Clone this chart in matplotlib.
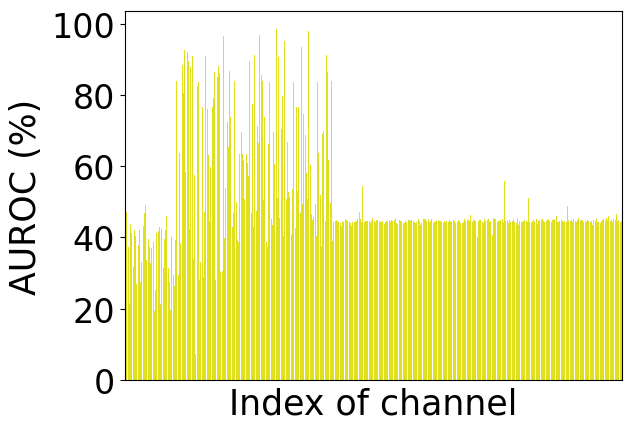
import matplotlib
matplotlib.use("Agg")
import matplotlib.pyplot as plt
import numpy as np

# AUROC per channel (left to right)
auroc_low = [34.5, 47.2, 37.3, 21.4, 43.7, 41.2, 31.7, 42.0, 40.3, 26.9,
             38.0, 42.0, 27.5, 33.0, 43.1, 46.8, 49.0, 33.6, 39.5, 37.3,
             32.8, 37.0, 38.6, 19.3, 25.2, 41.2, 41.7, 42.8, 21.3, 42.5,
             31.4, 39.5, 42.0, 45.9, 31.4, 27.5, 19.6, 40.0, 29.4, 26.3,
             39.2]

auroc_mid = [84.0, 29.4, 63.6, 38.4, 88.5, 80.4, 92.7, 58.3, 91.9, 89.6,
             42.5, 87.7, 90.8, 33.9, 57.4, 7.3, 82.4, 83.5, 28.0, 33.0,
             76.7, 28.8, 47.1, 90.8, 75.9, 63.0, 44.5, 59.7, 76.7, 79.0,
             86.3, 28.0, 84.9, 88.0, 86.0, 30.3, 30.5, 96.4, 39.8, 53.8,
             72.3, 65.3, 86.6, 73.7, 42.8, 46.8, 83.8, 49.9, 39.2, 38.6,
             63.3, 69.5, 63.3, 61.6, 50.7, 63.3,
             60.8, 57.1, 89.4, 46.8, 77.3, 42.9, 91.3, 47.3, 71.4, 66.4,
             96.9, 85.7, 84.0, 50.4, 73.7, 38.7, 37.3, 66.1, 83.5, 45.1,
             43.4, 69.5, 60.5, 98.6, 51.0, 90.5, 45.4, 70.3, 79.8, 40.3,
             95.0, 50.7, 66.7, 52.7, 51.3, 40.6, 53.5, 83.5, 42.6, 76.5,
             52.9, 76.5, 46.8, 93.3, 49.3, 74.5, 68.6, 58.0, 50.7, 98.0,
             60.2, 46.5, 44.8, 45.7, 49.3, 40.3, 83.5, 63.6, 51.8, 37.5,
             68.9, 70.0, 44.5, 91.3, 86.3, 61.6, 49.6, 84.0, 38.9]

auroc_flat = [44.3, 44.5, 44.8, 44.5, 44.3, 44.0, 43.1, 44.5, 44.3, 45.1,
              44.8, 44.5, 44.3, 44.0, 43.1, 44.3, 44.3, 44.3, 44.5, 45.1,
              47.1, 45.1, 44.3, 54.3, 44.3, 44.5, 44.5, 44.5, 44.5, 44.0,
              44.5, 45.4, 44.5, 44.3, 44.8, 44.8, 44.5, 44.3, 44.3, 44.5,
              43.7, 44.3, 44.5, 44.5, 44.8, 44.3, 44.8, 44.5, 44.8, 45.4,
              44.0, 43.7, 44.8, 44.5, 44.5, 44.0, 44.0, 44.5, 44.3, 44.8,
              44.8, 44.5, 44.8, 44.5, 44.3, 44.0, 44.3, 45.1, 44.5, 43.4,
              44.0, 45.1, 45.1, 45.1, 44.5, 45.1, 44.3, 44.5, 45.1, 44.0,
              44.3, 44.5, 44.5, 44.8, 44.5, 44.5, 44.3, 44.0, 44.5, 44.3,
              44.5, 44.3, 44.8, 44.5, 44.3, 44.8, 44.5, 44.0, 44.3, 44.8,
              44.5, 44.0, 44.0, 44.3, 45.1, 44.5, 44.8, 44.8, 44.5, 46.2,
              44.3, 44.8, 44.8, 44.5, 40.1, 44.5, 44.8, 44.8, 44.3, 44.0,
              45.1, 44.5, 44.8, 45.1, 44.3, 44.5, 40.6, 45.4, 45.1, 45.1,
              44.3, 44.5, 44.5, 44.8, 45.1, 44.3, 55.7, 44.5, 44.8, 44.0,
              44.8, 44.3, 44.5, 45.1, 44.3, 44.0, 45.5, 43.4, 44.5, 44.3,
              44.3, 44.5, 44.8, 44.5, 44.3, 51.0, 44.3, 44.0, 44.5, 44.8,
              44.3, 45.1, 43.7, 44.5, 44.8, 44.8, 45.1, 44.5, 44.3, 44.5,
              44.8, 45.1, 44.5, 44.3, 44.8, 45.1, 44.8, 45.9, 44.3, 44.3,
              44.5, 44.8, 44.5, 44.3, 44.5, 44.3, 48.7, 44.8, 44.5, 44.8,
              44.3, 45.1, 44.5, 44.3, 44.8, 45.4, 44.5, 44.8, 44.8, 44.3,
              44.5, 44.3, 44.8, 44.5, 44.3, 44.5, 43.4, 44.8, 44.5, 45.1,
              44.3, 44.3, 44.0, 44.5, 44.8, 45.1, 44.5, 45.4, 44.8, 45.9,
              44.5, 44.8, 44.3, 45.1, 44.8, 46.5, 44.5, 44.8, 44.3, 44.5]

auroc = auroc_low + auroc_mid + auroc_flat
channels = np.arange(len(auroc))

y_ticks = [0, 20, 40, 60, 80, 100]
x_label = "Index of channel"
y_label = "AUROC (%)"

fig = plt.figure(figsize=(6.31, 4.31), dpi=100)
ax = fig.add_axes([125 / 631, 50 / 431, 497 / 631, 369 / 431])
ax.bar(channels, auroc, width=0.8, color="#e0e01f")
ax.margins(x=0)
ax.set_xticks([])
ax.set_yticks(y_ticks)
ax.tick_params(axis="y", labelsize=24)
ax.set_xlabel(x_label, fontsize=25, labelpad=5)
ax.set_ylabel(y_label, fontsize=25, labelpad=6)
fig.savefig("out.png", dpi=100)
